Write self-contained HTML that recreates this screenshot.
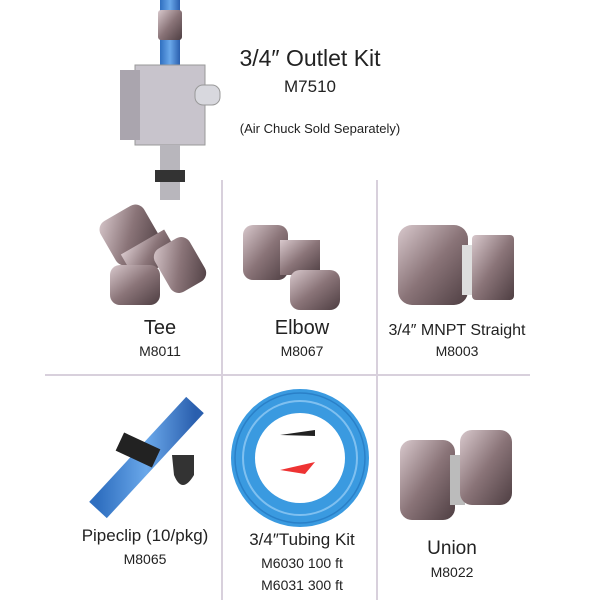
<!DOCTYPE html>
<html><head><style>
body{margin:0;background:#fff;width:600px;height:600px;overflow:hidden;font-family:"Liberation Sans",sans-serif;color:#222}
svg{position:absolute;left:0;top:0}
.t{position:absolute;text-align:center;white-space:nowrap;transform:translateX(-50%)}
</style></head><body>
<svg width="600" height="600">
<defs>
<linearGradient id="m" x1="0" y1="0" x2="1" y2="1"><stop offset="0" stop-color="#d8c8cc"/><stop offset=".5" stop-color="#8a7478"/><stop offset="1" stop-color="#4e3e42"/></linearGradient>
<linearGradient id="b" x1="0" x2="1"><stop offset="0" stop-color="#2f6fc0"/><stop offset=".5" stop-color="#6aa8ea"/><stop offset="1" stop-color="#2a5fae"/></linearGradient>
</defs>
<g stroke="#d8d0dc" stroke-width="2">
<line x1="222" y1="180" x2="222" y2="600"/><line x1="377" y1="180" x2="377" y2="600"/>
<line x1="45" y1="375" x2="530" y2="375"/></g>
<rect x="160" y="0" width="20" height="130" fill="url(#b)"/>
<rect x="158" y="10" width="24" height="30" rx="3" fill="url(#m)"/>
<rect x="135" y="65" width="70" height="80" fill="#c8c4cc" stroke="#999"/>
<rect x="120" y="70" width="20" height="70" fill="#aaa5ae"/>
<rect x="195" y="85" width="25" height="20" rx="8" fill="#d8d8de" stroke="#999"/>
<rect x="160" y="145" width="20" height="55" fill="#b8b6bc"/>
<rect x="155" y="170" width="30" height="12" fill="#333"/>
<rect x="105" y="210" width="50" height="50" rx="10" fill="url(#m)" transform="rotate(-30 130 235)"/>
<rect x="125" y="240" width="50" height="30" fill="url(#m)" transform="rotate(-30 150 255)"/>
<rect x="160" y="240" width="40" height="50" rx="10" fill="url(#m)" transform="rotate(-30 180 265)"/>
<rect x="110" y="265" width="50" height="40" rx="10" fill="url(#m)"/>
<rect x="243" y="225" width="45" height="55" rx="10" fill="url(#m)"/>
<rect x="280" y="240" width="40" height="35" fill="url(#m)"/>
<rect x="290" y="270" width="50" height="40" rx="10" fill="url(#m)"/>
<rect x="398" y="225" width="70" height="80" rx="14" fill="url(#m)"/>
<rect x="462" y="245" width="12" height="50" fill="#ddd"/>
<rect x="472" y="235" width="42" height="65" rx="4" fill="url(#m)"/>
<line x1="98" y1="510" x2="195" y2="405" stroke="url(#b)" stroke-width="24"/>
<rect x="118" y="440" width="40" height="20" fill="#222" transform="rotate(25 138 450)"/>
<path d="M172 455 h22 v20 q-12 20 -20 0 z" fill="#333"/>
<circle cx="300" cy="458" r="57" fill="none" stroke="#3a9ae0" stroke-width="24"/>
<circle cx="300" cy="458" r="57" fill="none" stroke="#7fc0f0" stroke-width="2"/>
<circle cx="300" cy="458" r="65" fill="none" stroke="#2a80c8" stroke-width="1.5"/>
<path d="M280 435 l35 -5 v6 z" fill="#222"/><path d="M280 470 l35 -8 l-10 12 z" fill="#e33"/>
<rect x="400" y="440" width="55" height="80" rx="12" fill="url(#m)"/>
<rect x="450" y="455" width="15" height="50" fill="#bbb"/>
<rect x="460" y="430" width="52" height="75" rx="12" fill="url(#m)"/>
</svg>
<div class="t" style="left:310px;top:45px;font-size:23px">3/4″ Outlet Kit</div>
<div class="t" style="left:310px;top:77px;font-size:17px">M7510</div>
<div class="t" style="left:320px;top:121px;font-size:13px">(Air Chuck Sold Separately)</div>
<div class="t" style="left:160px;top:317px;font-size:20px">Tee</div>
<div class="t" style="left:160px;top:343px;font-size:14px">M8011</div>
<div class="t" style="left:302px;top:317px;font-size:20px">Elbow</div>
<div class="t" style="left:457px;top:322px;font-size:16px">3/4″ MNPT Straight</div>
<div class="t" style="left:302px;top:343px;font-size:14px">M8067</div>
<div class="t" style="left:457px;top:343px;font-size:14px">M8003</div>
<div class="t" style="left:145px;top:526px;font-size:17px">Pipeclip (10/pkg)</div>
<div class="t" style="left:145px;top:551px;font-size:14px">M8065</div>
<div class="t" style="left:302px;top:530px;font-size:17px">3/4″Tubing Kit</div>
<div class="t" style="left:302px;top:555px;font-size:14px">M6030 100 ft</div>
<div class="t" style="left:302px;top:577px;font-size:14px">M6031 300 ft</div>
<div class="t" style="left:452px;top:538px;font-size:19px">Union</div>
<div class="t" style="left:452px;top:564px;font-size:14px">M8022</div>
</body></html>
